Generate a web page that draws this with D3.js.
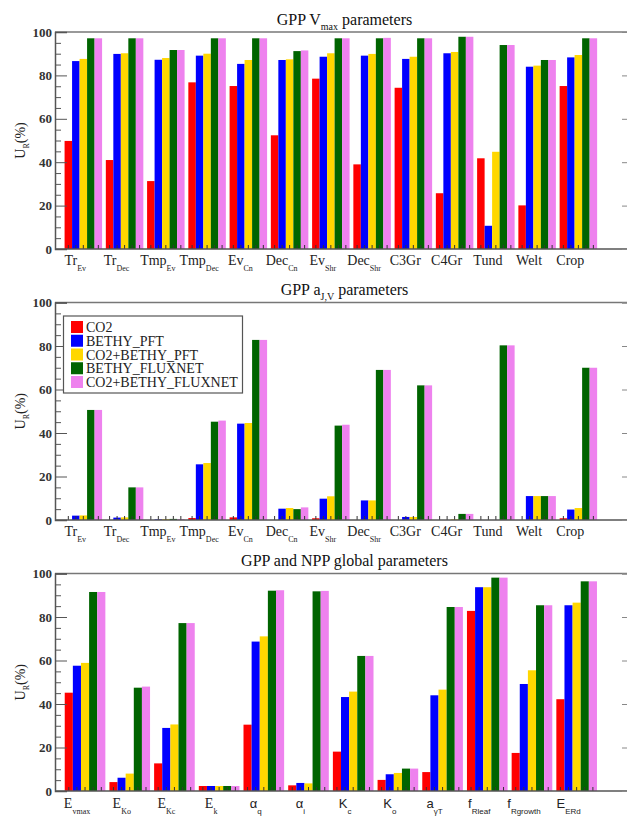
<!DOCTYPE html>
<html><head><meta charset="utf-8">
<script src="https://cdn.jsdelivr.net/npm/d3@7"></script>
<style>body{margin:0;background:#fff}</style></head>
<body>
<svg id="c" width="627" height="818"></svg>
<script>
// ---------- data ----------
const seriesNames = ["CO2","BETHY_PFT","CO2+BETHY_PFT","BETHY_FLUXNET","CO2+BETHY_FLUXNET"];
const seriesColors = ["#ff0000","#0000ff","#ffd700","#006400","#ee82ee"];

const pftMain = ["Tr","Tr","Tmp","Tmp","Ev","Dec","Ev","Dec","C3Gr","C4Gr","Tund","Welt","Crop"];
const pftSub  = ["Ev","Dec","Ev","Dec","Cn","Cn","Shr","Shr","","","","",""];

const globMain = ["E","E","E","E","α","α","K","K","a","f","f","E"];
const globSub  = ["vmax","Ko","Kc","k","q","i","c","o","γT","Rleaf","Rgrowth","ERd"];
const globSerif = [true,true,true,true,false,false,false,false,false,false,false,false];

const yTicks = [0,20,40,60,80,100];

const vmax_CO2      = [49.8,41.0,31.3,76.8,75.1,52.4,78.5,39.0,74.3,25.7,41.8,20.1,75.1];
const vmax_PFT      = [86.6,89.9,87.2,89.1,85.3,87.1,88.6,89.1,87.6,90.2,10.7,84.0,88.3];
const vmax_CO2PFT   = [87.6,90.2,88.0,90.0,87.1,87.4,90.2,89.9,88.6,90.8,44.8,84.5,89.4];
const vmax_FLUX     = [97.1,97.1,91.7,97.1,97.1,91.2,97.1,97.1,97.1,97.8,94.0,87.1,97.1];
const vmax_CO2FLUX  = [97.1,97.1,91.7,97.1,97.1,91.5,97.1,97.3,97.1,97.8,94.0,87.1,97.1];

const ajv_CO2       = [0,0,0,0.9,1.2,0,0.8,0,0,0,0,0,0.8];
const ajv_PFT       = [2.0,1.1,0.3,25.6,44.3,5.2,9.8,9.0,1.4,0,0,11.0,4.8];
const ajv_CO2PFT    = [2.1,1.2,0.4,26.2,44.6,5.5,10.9,9.0,1.4,0.3,0,11.0,5.5];
const ajv_FLUX      = [50.6,15.0,0.5,45.2,82.8,5.0,43.4,69.0,61.9,2.8,80.3,11.0,70.0];
const ajv_CO2FLUX   = [50.6,15.0,0.4,45.7,82.8,5.8,43.8,69.0,61.9,2.8,80.3,11.0,70.0];

const glob_CO2      = [45.2,4.1,12.7,2.3,30.5,2.6,18.1,5.1,8.7,82.8,17.5,42.2];
const glob_PFT      = [57.6,6.1,29.0,2.3,68.7,3.7,43.2,7.7,44.0,93.7,49.2,85.4];
const glob_CO2PFT   = [58.9,8.0,30.6,2.3,71.1,3.5,45.7,8.3,46.6,93.7,55.5,86.6];
const glob_FLUX     = [91.5,47.5,77.2,2.3,92.1,91.8,62.1,10.3,84.6,98.1,85.4,96.4];
const glob_CO2FLUX  = [91.5,48.0,77.2,2.3,92.3,92.0,62.1,10.3,84.6,98.1,85.4,96.4];

// ---------- layout ----------
const svg = d3.select("#c");
const serif = "'Liberation Serif','DejaVu Serif',serif";
const sans = "'Liberation Sans','DejaVu Sans',sans-serif";
const xLeft = 55, xRight = 634;
const bandRange = [62.7, 599];

const panels = [
  {title:["GPP V","max"," parameters"], top:32, bottom:249, titleY:25,
   main:pftMain, sub:pftSub, serifFlags:pftMain.map(()=>true),
   series:[vmax_CO2,vmax_PFT,vmax_CO2PFT,vmax_FLUX,vmax_CO2FLUX], labelDy:16},
  {title:["GPP a","J,V"," parameters"], top:302.5, bottom:520, titleY:295,
   main:pftMain, sub:pftSub, serifFlags:pftMain.map(()=>true),
   series:[ajv_CO2,ajv_PFT,ajv_CO2PFT,ajv_FLUX,ajv_CO2FLUX], labelDy:16, legend:true},
  {title:["GPP and NPP global parameters","",""], top:573.5, bottom:791, titleY:566,
   main:globMain, sub:globSub, serifFlags:globSerif,
   series:[glob_CO2,glob_PFT,glob_CO2PFT,glob_FLUX,glob_CO2FLUX], labelDy:17}
];

panels.forEach(p => {
  const n = p.main.length;
  const idx = d3.range(n);
  const y = d3.scaleLinear().domain([0,100]).range([p.bottom, p.top]);
  const pi = 0.5/5.5;
  const x = d3.scaleBand().domain(idx).range(bandRange).paddingInner(pi).paddingOuter(pi/2);
  const xs = d3.scaleBand().domain(d3.range(5)).range([0, x.bandwidth()]);
  const g = svg.append("g");

  // bars
  p.series.forEach((vals, s) => {
    g.append("g").selectAll("rect").data(idx).join("rect")
      .attr("x", i => x(i) + xs(s))
      .attr("width", xs.bandwidth())
      .attr("y", i => y(vals[i]))
      .attr("height", i => y(0) - y(vals[i]))
      .attr("fill", seriesColors[s]);
  });

  // small ticks at bar slots along x axis
  const slots = [];
  idx.forEach(i => d3.range(5).forEach(s => slots.push(x(i) + xs(s) + xs.bandwidth()/2)));
  g.append("g").selectAll("line").data(slots).join("line")
    .attr("x1", d=>d).attr("x2", d=>d)
    .attr("y1", p.bottom).attr("y2", p.bottom-4)
    .attr("stroke", "#333").attr("stroke-width", 1);

  // frame lines
  g.append("line").attr("x1", xLeft).attr("x2", xRight).attr("y1", p.top).attr("y2", p.top)
    .attr("stroke", "#777").attr("stroke-width", 1.5);
  g.append("line").attr("x1", xLeft).attr("x2", xRight).attr("y1", p.bottom).attr("y2", p.bottom)
    .attr("stroke", "#555").attr("stroke-width", 1.5);

  // y axes (ticks inward)
  const minor = d3.range(0,101,5).filter(v => v % 20 !== 0);
  const left = g.append("g").attr("transform", `translate(${xLeft},0)`)
    .call(d3.axisLeft(y).tickValues(yTicks).tickSize(-12).tickPadding(3).tickFormat(d3.format("d")));
  left.select(".domain").attr("stroke", "#555").attr("stroke-width", 1.5);
  left.selectAll(".tick line").attr("stroke", "#555");
  left.selectAll(".tick text").attr("font-family", serif).attr("font-size", 13)
    .attr("font-weight", "bold").attr("fill", "#333");
  const leftMinor = g.append("g").attr("transform", `translate(${xLeft},0)`)
    .call(d3.axisLeft(y).tickValues(minor).tickSize(-6).tickFormat(""));
  leftMinor.select(".domain").remove();
  leftMinor.selectAll(".tick line").attr("stroke", "#555");

  const right = g.append("g").attr("transform", `translate(${xRight},0)`)
    .call(d3.axisRight(y).tickValues(yTicks).tickSize(-12).tickFormat(""));
  right.select(".domain").attr("stroke", "#888");
  right.selectAll(".tick line").attr("stroke", "#888");

  // x labels
  idx.forEach(i => {
    const cx = x(i) + x.bandwidth()/2 - 8;
    const ff = p.serifFlags[i] ? serif : sans;
    const t = g.append("text").attr("x", cx).attr("y", p.bottom + p.labelDy)
      .attr("text-anchor", "middle").attr("font-family", ff).attr("fill", "#222");
    t.append("tspan").attr("font-size", p.serifFlags[i] ? 14 : 13).text(p.main[i]);
    if (p.sub[i]) t.append("tspan").attr("font-size", 8).attr("dy", 6).text(p.sub[i]);
  });

  // title
  const tt = g.append("text").attr("x", (xLeft + xRight)/2).attr("y", p.titleY)
    .attr("text-anchor", "middle").attr("font-family", serif).attr("font-size", 16).attr("fill", "#111");
  tt.append("tspan").text(p.title[0]);
  if (p.title[1]) {
    tt.append("tspan").attr("font-size", 10).attr("dy", 5).text(p.title[1]);
    tt.append("tspan").attr("dy", -5).text(p.title[2]);
  }

  // y label
  const yl = g.append("text")
    .attr("transform", `translate(25,${(p.top + p.bottom)/2}) rotate(-90)`)
    .attr("text-anchor", "middle").attr("font-family", serif).attr("font-size", 14).attr("fill", "#222");
  yl.append("tspan").text("U");
  yl.append("tspan").attr("font-size", 8).attr("dy", 4).text("R");
  yl.append("tspan").attr("dy", -4).text("(%)");

  // legend
  if (p.legend) {
    const lg = g.append("g");
    lg.append("rect").attr("x", 63.5).attr("y", 316).attr("width", 179).attr("height", 77)
      .attr("fill", "#fff").attr("stroke", "#555").attr("stroke-width", 1.2);
    seriesNames.forEach((name, s) => {
      const cy = 327 + s * 13.75;
      lg.append("rect").attr("x", 71).attr("y", cy - 6).attr("width", 12).attr("height", 12)
        .attr("fill", seriesColors[s]);
      lg.append("text").attr("x", 86).attr("y", cy + 5).attr("font-family", serif)
        .attr("font-size", 14).attr("fill", "#222").text(name);
    });
  }
});
</script>
</body></html>
